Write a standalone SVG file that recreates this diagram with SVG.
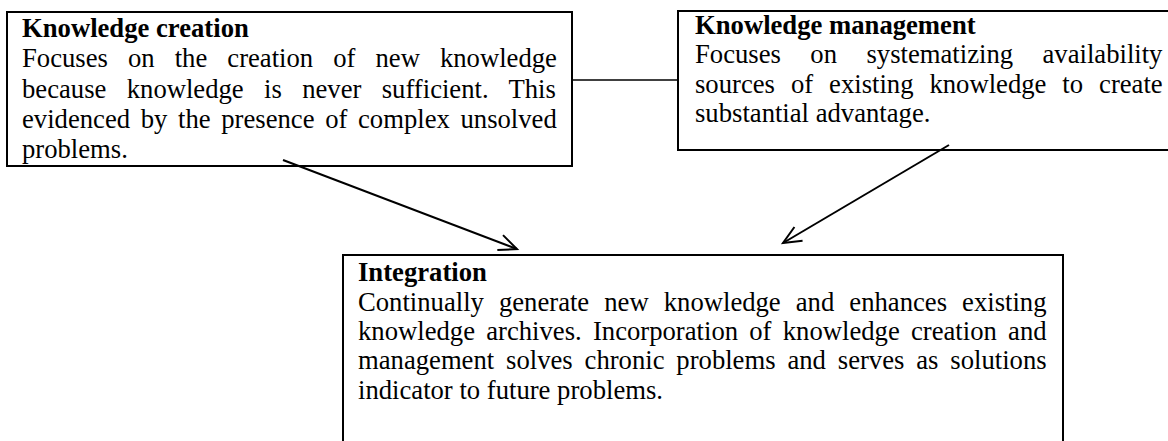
<svg xmlns="http://www.w3.org/2000/svg" width="1168" height="441" viewBox="0 0 1168 441">
<style>
.box{fill:#fff;stroke:#000;stroke-width:2}
.t{font-family:"Liberation Serif","Times New Roman",serif;font-size:26.67px;fill:#000}
.b{font-weight:bold}
.conn{stroke:#000;fill:none}
</style>
<defs>
<marker id="arr" viewBox="-2 -2 22 20" refX="18" refY="8" markerWidth="22" markerHeight="20" markerUnits="userSpaceOnUse" orient="auto" overflow="visible">
<path d="M0,0 L18,8 L0,16" fill="none" stroke="#000" stroke-width="2"/>
</marker>
</defs>
<rect width="1168" height="441" fill="#fff"/>
<g id="creation">
<rect class="box" x="7" y="12" width="565" height="154"/>
<text class="t b" x="22" y="37">Knowledge creation</text>
<text class="t" x="22" y="67" word-spacing="13.4">Focuses on the creation of new knowledge</text>
<text class="t" x="22" y="98" word-spacing="13.7">because knowledge is never sufficient. This</text>
<text class="t" x="22" y="128" word-spacing="4">evidenced by the presence of complex unsolved</text>
<text class="t" x="22" y="158">problems.</text>
</g>
<g id="management">
<rect class="box" x="678" y="11" width="510" height="139"/>
<text class="t b" x="695" y="34">Knowledge management</text>
<text class="t" x="695" y="63" word-spacing="22.8">Focuses on systematizing availability</text>
<text class="t" x="695" y="93" word-spacing="9.3">sources of existing knowledge to create</text>
<text class="t" x="695" y="122">substantial advantage.</text>
</g>
<g id="integration">
<rect class="box" x="343" y="255" width="720" height="220"/>
<text class="t b" x="358" y="281">Integration</text>
<text class="t" x="358" y="311" word-spacing="8.4">Continually generate new knowledge and enhances existing</text>
<text class="t" x="358" y="340" word-spacing="4.6">knowledge archives. Incorporation of knowledge creation and</text>
<text class="t" x="358" y="369" word-spacing="5.2">management solves chronic problems and serves as solutions</text>
<text class="t" x="358" y="399">indicator to future problems.</text>
</g>
<g id="connectors">
<line class="conn" x1="572" y1="80" x2="678" y2="80" stroke-width="1.3"/>
<line class="conn" x1="283" y1="160" x2="517" y2="249" stroke-width="2" marker-end="url(#arr)"/>
<line class="conn" x1="949" y1="145" x2="783" y2="243" stroke-width="2" marker-end="url(#arr)"/>
</g>
</svg>
